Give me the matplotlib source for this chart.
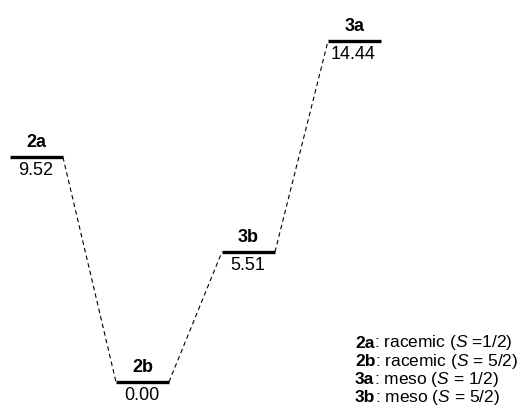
import matplotlib.pyplot as plt

plt.rcParams['font.family'] = ['Liberation Sans', 'DejaVu Sans']
plt.rcParams['mathtext.fontset'] = 'custom'
plt.rcParams['mathtext.rm'] = 'Liberation Sans'
plt.rcParams['mathtext.it'] = 'Liberation Sans:italic'

names = ['2a', '2b', '3b', '3a']
energies = [9.52, 0.00, 5.51, 14.44]
legend_names = ['2a', '2b', '3a', '3b']
legend_desc = [': racemic ($S$ =1/2)', ': racemic ($S$ = 5/2)',
               ': meso ($S$ = 1/2)', ': meso ($S$ = 5/2)']

fig = plt.figure(figsize=(5.29, 4.18), dpi=100)
ax = fig.add_axes([0, 0, 1, 1])
ax.set_xlim(-0.344, 4.646)
ax.set_ylim(-1.53, 16.18)
ax.axis('off')

hw = 0.25
for i, (n, e) in enumerate(zip(names, energies)):
    ax.plot([i - hw, i + hw], [e, e], color='black', lw=2.4, solid_capstyle='butt')
    ax.annotate(n, (i, e), xytext=(0, 10.5), textcoords='offset points',
                ha='center', va='center', fontsize=13, fontweight='bold')
    ax.annotate('%.2f' % e, (i - 0.01, e), xytext=(0, -9.5), textcoords='offset points',
                ha='center', va='center', fontsize=13)
    if i < len(names) - 1:
        ax.plot([i + hw, i + 1 - hw], [e, energies[i + 1]], color='black', lw=0.8,
                dashes=(4, 3))

# legend block
y0 = 1 - 343 / 418
fig.canvas.draw()
for k, (n, d) in enumerate(zip(legend_names, legend_desc)):
    y = y0 - k * 0.0435
    t = fig.text(0.671, y, n, fontsize=12.5, fontweight='bold', va='center', ha='left')
    bb = t.get_window_extent(renderer=fig.canvas.get_renderer())
    fig.text(bb.x1 / fig.bbox.width, y, d, fontsize=12.5, va='center', ha='left')

fig.savefig('out.png', dpi=100)
